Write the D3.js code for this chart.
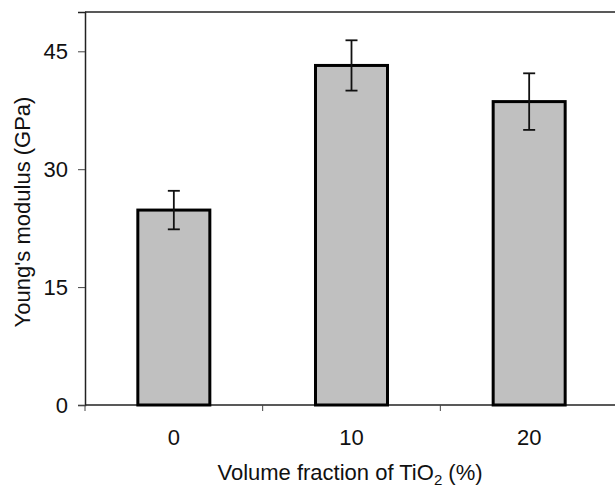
<!DOCTYPE html>
<html>
<head>
<meta charset="utf-8">
<script src="https://cdn.jsdelivr.net/npm/d3@7"></script>
<style>
  body { margin: 0; background: #fff; }
  text { font-family: "Liberation Sans", Arial, sans-serif; fill: #111; }
</style>
</head>
<body>
<div id="app"></div>
<script>
const categories = ['0', '10', '20'];
const modulus = [24.8, 43.2, 38.6];
const errors = [2.45, 3.2, 3.6];
const yTicks = [0, 15, 30, 45];

const data = categories.map((c, i) => ({ cat: c, value: modulus[i], err: errors[i] }));

const W = 615, H = 487;
const margin = { top: 12, right: -3, bottom: 82, left: 85 };

const svg = d3.select('#app').append('svg')
  .attr('width', W)
  .attr('height', H);

const x = d3.scaleBand()
  .domain(categories)
  .range([margin.left, W - margin.right])
  .paddingInner(0)
  .paddingOuter(0);

const y = d3.scaleLinear()
  .domain([0, 50])
  .range([H - margin.bottom, margin.top]);

const barW = 72;

// frame top line
svg.append('line')
  .attr('x1', margin.left).attr('x2', W)
  .attr('y1', y(50)).attr('y2', y(50))
  .attr('stroke', '#222').attr('stroke-width', 1.5);

// y axis
const gy = svg.append('g')
  .attr('transform', `translate(${margin.left},0)`)
  .call(d3.axisLeft(y).tickValues(yTicks).tickSize(7).tickPadding(10));
gy.select('.domain').attr('stroke', '#222').attr('stroke-width', 1.5);
gy.selectAll('.tick line').attr('stroke', '#444');
gy.selectAll('.tick text').style('font-size', '22px');

// x axis: ticks on the band boundaries
const gx = svg.append('g')
  .attr('transform', `translate(0,${y(0)})`);
gx.append('line')
  .attr('x1', margin.left).attr('x2', W)
  .attr('stroke', '#222').attr('stroke-width', 1.5);
gx.selectAll('.sep')
  .data(categories)
  .enter()
  .append('line')
  .attr('class', 'sep')
  .attr('x1', d => x(d)).attr('x2', d => x(d))
  .attr('y1', 0).attr('y2', 6)
  .attr('stroke', '#444');
gx.selectAll('.lab')
  .data(categories)
  .enter()
  .append('text')
  .attr('class', 'lab')
  .attr('x', d => x(d) + x.bandwidth() / 2)
  .attr('y', 40)
  .attr('text-anchor', 'middle')
  .style('font-size', '22px')
  .text(d => d);

// bars
svg.selectAll('.bar')
  .data(data)
  .enter()
  .append('rect')
  .attr('class', 'bar')
  .attr('x', d => x(d.cat) + x.bandwidth() / 2 - barW / 2)
  .attr('y', d => y(d.value))
  .attr('width', barW)
  .attr('height', d => y(0) - y(d.value))
  .attr('fill', '#c0c0c0')
  .attr('stroke', '#000')
  .attr('stroke-width', 3);

// error bars
const eb = svg.selectAll('.err')
  .data(data)
  .enter()
  .append('g')
  .attr('class', 'err')
  .attr('stroke', '#111')
  .attr('stroke-width', 1.8);
eb.append('line')
  .attr('x1', d => x(d.cat) + x.bandwidth() / 2)
  .attr('x2', d => x(d.cat) + x.bandwidth() / 2)
  .attr('y1', d => y(d.value + d.err))
  .attr('y2', d => y(d.value - d.err));
eb.append('line')
  .attr('x1', d => x(d.cat) + x.bandwidth() / 2 - 6)
  .attr('x2', d => x(d.cat) + x.bandwidth() / 2 + 6)
  .attr('y1', d => y(d.value + d.err))
  .attr('y2', d => y(d.value + d.err));
eb.append('line')
  .attr('x1', d => x(d.cat) + x.bandwidth() / 2 - 6)
  .attr('x2', d => x(d.cat) + x.bandwidth() / 2 + 6)
  .attr('y1', d => y(d.value - d.err))
  .attr('y2', d => y(d.value - d.err));

// axis titles
const xt = svg.append('text')
  .attr('x', 350)
  .attr('y', 480)
  .attr('text-anchor', 'middle')
  .style('font-size', '22px');
xt.append('tspan').text('Volume fraction of TiO');
xt.append('tspan').attr('dy', 5).style('font-size', '15px').text('2');
xt.append('tspan').attr('dy', -5).text(' (%)');

svg.append('text')
  .attr('transform', 'translate(30,212) rotate(-90)')
  .attr('text-anchor', 'middle')
  .style('font-size', '22px')
  .text("Young's modulus (GPa)");
</script>
</body>
</html>
